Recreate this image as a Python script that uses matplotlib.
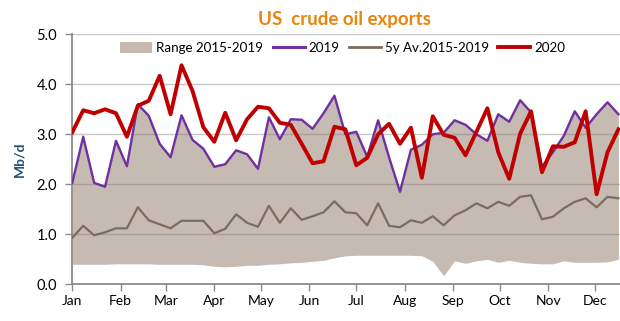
import numpy as np
import matplotlib
matplotlib.use("Agg")
import matplotlib.pyplot as plt
from matplotlib.patches import Patch
from matplotlib.lines import Line2D

# weekly crude oil exports, Mb/d
weeks = np.arange(51) * 7  # day of year for each weekly value

range_low = [0.40, 0.40, 0.40, 0.40, 0.41, 0.41, 0.41, 0.41, 0.40, 0.40,
             0.40, 0.40, 0.39, 0.36, 0.35, 0.36, 0.38, 0.38, 0.40, 0.41,
             0.43, 0.44, 0.46, 0.48, 0.53, 0.57, 0.58, 0.58, 0.58, 0.58,
             0.58, 0.58, 0.57, 0.46, 0.17, 0.47, 0.42, 0.47, 0.50, 0.44,
             0.48, 0.44, 0.42, 0.41, 0.41, 0.47, 0.44, 0.44, 0.44, 0.45,
             0.50]

y2019 = [2.03, 2.95, 2.03, 1.95, 2.87, 2.36, 3.60, 3.37, 2.81, 2.54,
         3.38, 2.89, 2.71, 2.35, 2.40, 2.68, 2.60, 2.31, 3.34, 2.90,
         3.30, 3.29, 3.11, 3.42, 3.77, 3.00, 3.05, 2.55, 3.28, 2.54,
         1.85, 2.69, 2.79, 3.00, 3.03, 3.28, 3.19, 3.00, 2.87, 3.40,
         3.25, 3.68, 3.44, 2.35, 2.64, 2.97, 3.46, 3.13, 3.40, 3.64,
         3.40]

avg_5y = [0.93, 1.17, 0.98, 1.04, 1.12, 1.12, 1.54, 1.28, 1.20, 1.12,
          1.27, 1.27, 1.27, 1.02, 1.11, 1.40, 1.23, 1.15, 1.57, 1.23,
          1.52, 1.29, 1.36, 1.44, 1.66, 1.44, 1.42, 1.18, 1.62, 1.17,
          1.14, 1.28, 1.23, 1.36, 1.18, 1.38, 1.48, 1.62, 1.52, 1.65,
          1.57, 1.75, 1.78, 1.30, 1.35, 1.52, 1.65, 1.72, 1.54, 1.75,
          1.72]

y2020 = [3.04, 3.48, 3.42, 3.50, 3.42, 2.95, 3.57, 3.67, 4.17, 3.40,
         4.38, 3.87, 3.14, 2.85, 3.43, 2.88, 3.30, 3.55, 3.52, 3.23,
         3.19, 2.81, 2.42, 2.46, 3.15, 3.10, 2.38, 2.53, 3.00, 3.21,
         2.81, 3.13, 2.13, 3.36, 2.99, 2.93, 2.58, 3.05, 3.52, 2.64,
         2.11, 3.01, 3.46, 2.24, 2.76, 2.75, 2.84, 3.46, 1.80, 2.64,
         3.10]

month_days = [0, 31, 60, 91, 121, 152, 182, 213, 244, 274, 305, 335]
month_labels = ["Jan", "Feb", "Mar", "Apr", "May", "Jun",
                "Jul", "Aug", "Sep", "Oct", "Nov", "Dec"]

plt.rcParams["font.family"] = ["Lato", "DejaVu Sans"]

fig = plt.figure(figsize=(6.2, 3.21), dpi=100)
ax = fig.add_axes([0.1166, 0.1143, 0.8834, 0.779])

fill_col = "#8c7869"
c2019 = "#7030a0"
cavg = "#7f6b5d"
c2020 = "#c00000"
axis_col = "#8a8a8a"

ax.fill_between(weeks, range_low, y2019, color=fill_col, alpha=0.5,
                linewidth=0, zorder=2)
ax.plot(weeks, avg_5y, color=cavg, lw=1.6, zorder=3)
ax.plot(weeks, y2019, color=c2019, lw=1.7, zorder=4)
ax.plot(weeks, y2020, color=c2020, lw=2.8, zorder=5)

ax.set_xlim(0, 351)
ax.set_ylim(0, 5)
ax.set_yticks(np.arange(0, 5.01, 1.0))
ax.set_yticklabels([f"{v:.1f}" for v in np.arange(0, 5.01, 1.0)], fontsize=10.5)
ax.set_xticks(month_days)
ax.set_xticklabels(month_labels, fontsize=10)

ax.yaxis.grid(True, color="#c8c8c8", lw=1.0, zorder=1)
ax.set_axisbelow(True)

for s in ["top", "right"]:
    ax.spines[s].set_visible(False)
for s in ["left", "bottom"]:
    ax.spines[s].set_color(axis_col)
    ax.spines[s].set_linewidth(1.3)
ax.tick_params(axis="both", direction="out", length=5, width=1.0,
               color=axis_col, labelcolor="black")
ax.tick_params(axis="x", pad=3)
ax.tick_params(axis="y", pad=6)

ax.set_ylabel("Mb/d", fontsize=10, fontweight="bold", color="#1f4e79",
              labelpad=8)

fig.text(0.555, 0.94, "US  crude oil exports", ha="center", va="center",
         fontsize=13.5, fontweight="bold", color="#e8850c")

handles = [Patch(facecolor=fill_col, alpha=0.5, edgecolor="none"),
           Line2D([], [], color=c2019, lw=2.2),
           Line2D([], [], color=cavg, lw=2.0),
           Line2D([], [], color=c2020, lw=2.8)]
labels = ["Range 2015-2019", "2019", "5y Av.2015-2019", "2020"]
ax.legend(handles, labels, loc="center", bbox_to_anchor=(0.494, 0.945),
          ncol=4, frameon=False, fontsize=9.6, handlelength=2.4,
          handletextpad=0.3, columnspacing=0.7, handleheight=0.9)

fig.savefig("out.png", dpi=100)
